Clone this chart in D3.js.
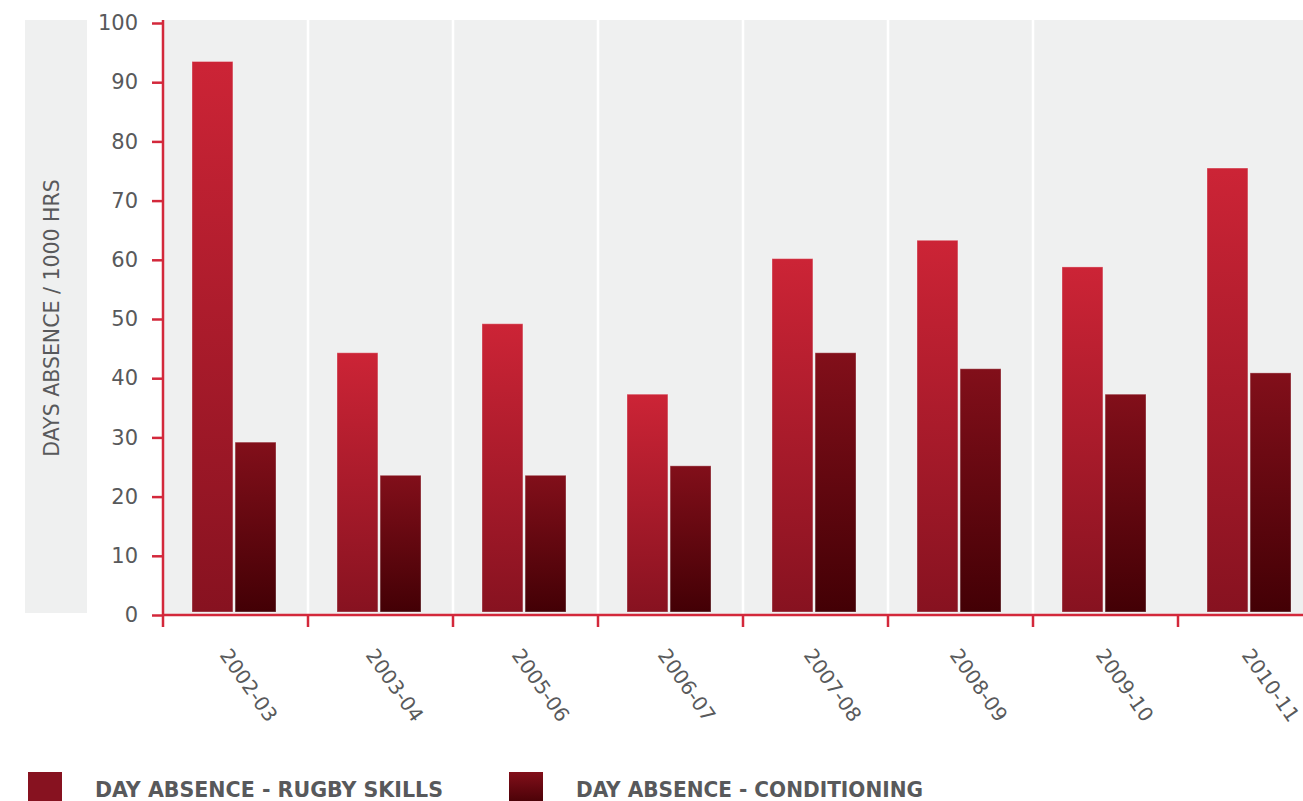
<!DOCTYPE html>
<html>
<head>
<meta charset="utf-8">
<script src="https://cdn.jsdelivr.net/npm/d3@7"></script>
<style>
  html, body { margin: 0; padding: 0; background: #ffffff; overflow: hidden; }
  svg { display: block; }
</style>
</head>
<body>
<svg id="chart" width="1303" height="801"></svg>
<script>
// Injury absence per season, days per 1000 hours of training
const seasons = ["2002-03", "2003-04", "2005-06", "2006-07", "2007-08", "2008-09", "2009-10", "2010-11"];
const rugbySkills = [93.5, 44.3, 49.2, 37.3, 60.2, 63.3, 58.8, 75.5];
const conditioning = [29.2, 23.6, 23.6, 25.2, 44.3, 41.6, 37.3, 40.9];
const seriesNames = ["DAY ABSENCE - RUGBY SKILLS", "DAY ABSENCE - CONDITIONING"];
const yTicks = [0, 10, 20, 30, 40, 50, 60, 70, 80, 90, 100];
const yTitle = "DAYS ABSENCE / 1000 HRS";

const svg = d3.select("#chart");
const axisRed = "#d3283b";
const textGrey = "#58595b";
const panelGrey = "#eff0f0";

const plot = { left: 163, top: 20, bottom: 615, step: 145 };
const plotRight = plot.left + plot.step * seasons.length;

const x = d3.scaleBand().domain(seasons).range([plot.left, plotRight]).padding(0);
const x1 = d3.scaleBand().domain([0, 1]).range([29, 113]).paddingInner(0.05);
const y = d3.scaleLinear().domain([0, 100]).range([plot.bottom, plot.top + 3]);

// gradients for bar fills
const defs = svg.append("defs");
function grad(id, top, bottom) {
  const g = defs.append("linearGradient").attr("id", id)
    .attr("x1", 0).attr("y1", 0).attr("x2", 0).attr("y2", 1);
  g.append("stop").attr("offset", "0%").attr("stop-color", top);
  g.append("stop").attr("offset", "100%").attr("stop-color", bottom);
}
grad("gSkills", "#cc2436", "#871220");
grad("gCond", "#820f1a", "#430005");
const fills = ["url(#gSkills)", "url(#gCond)"];

// panel backgrounds
svg.append("rect").attr("x", 25).attr("y", plot.top).attr("width", 62)
  .attr("height", plot.bottom - plot.top - 2).attr("fill", panelGrey);
svg.append("rect").attr("x", plot.left).attr("y", plot.top)
  .attr("width", plotRight - plot.left).attr("height", plot.bottom - plot.top)
  .attr("fill", panelGrey);

// white separators between seasons
svg.append("g").selectAll("line").data(seasons.slice(1, -1)).join("line")
  .attr("x1", d => x(d)).attr("x2", d => x(d))
  .attr("y1", plot.top).attr("y2", plot.bottom)
  .attr("stroke", "#ffffff").attr("stroke-width", 2.5);

// bars
const groups = svg.append("g").selectAll("g").data(seasons).join("g")
  .attr("transform", d => `translate(${x(d)},0)`);
groups.selectAll("rect")
  .data((d, i) => [rugbySkills[i], conditioning[i]].map((v, k) => ({ v, k })))
  .join("rect")
  .attr("x", d => x1(d.k))
  .attr("width", x1.bandwidth())
  .attr("y", d => y(d.v))
  .attr("height", d => y(0) - 3 - y(d.v))
  .attr("fill", d => fills[d.k])
  .attr("stroke", "rgba(255,255,255,0.35)")
  .attr("stroke-width", 1);

// y axis
const yAxis = svg.append("g").attr("transform", `translate(${plot.left},0)`)
  .call(d3.axisLeft(y).tickValues(yTicks).tickSize(11).tickPadding(14));
yAxis.select(".domain").remove();
yAxis.selectAll(".tick line").attr("stroke", axisRed).attr("stroke-width", 2.5);
yAxis.selectAll(".tick text")
  .attr("fill", textGrey).attr("font-family", "DejaVu Sans").attr("font-size", 21);
svg.append("line").attr("x1", plot.left).attr("x2", plot.left)
  .attr("y1", plot.top).attr("y2", plot.bottom + 12)
  .attr("stroke", axisRed).attr("stroke-width", 2.5);

// x axis
svg.append("line").attr("x1", plot.left).attr("x2", plotRight)
  .attr("y1", plot.bottom).attr("y2", plot.bottom)
  .attr("stroke", axisRed).attr("stroke-width", 2.5);
svg.append("g").selectAll("line").data(seasons.slice(1)).join("line")
  .attr("x1", d => x(d)).attr("x2", d => x(d))
  .attr("y1", plot.bottom).attr("y2", plot.bottom + 12)
  .attr("stroke", axisRed).attr("stroke-width", 2.5);
svg.append("g").selectAll("text").data(seasons).join("text")
  .attr("transform", (d, i) => `translate(${x(d) + 56 + i},655) rotate(55)`)
  .attr("fill", textGrey).attr("font-family", "DejaVu Sans").attr("font-size", 20)
  .text(d => d);

// y axis title
svg.append("text")
  .attr("transform", "translate(59,318) rotate(-90)")
  .attr("text-anchor", "middle")
  .attr("fill", textGrey).attr("font-family", "DejaVu Sans").attr("font-size", 20.5)
  .text(yTitle);

// legend
const legendX = [28, 509];
const legendFills = ["#871220", "url(#gCond)"];
const legend = svg.append("g").selectAll("g").data(seriesNames).join("g")
  .attr("transform", (d, i) => `translate(${legendX[i]},772)`);
legend.append("rect").attr("width", 34).attr("height", 34)
  .attr("fill", (d, i) => legendFills[i]);
legend.append("text")
  .attr("x", 67).attr("y", 25)
  .attr("fill", textGrey)
  .attr("font-family", "'DejaVu Sans Condensed', 'Liberation Sans', sans-serif")
  .attr("font-weight", "bold").attr("font-size", 21)
  .attr("textLength", (d, i) => [348, 347][i])
  .attr("lengthAdjust", "spacingAndGlyphs")
  .text(d => d);
</script>
</body>
</html>
